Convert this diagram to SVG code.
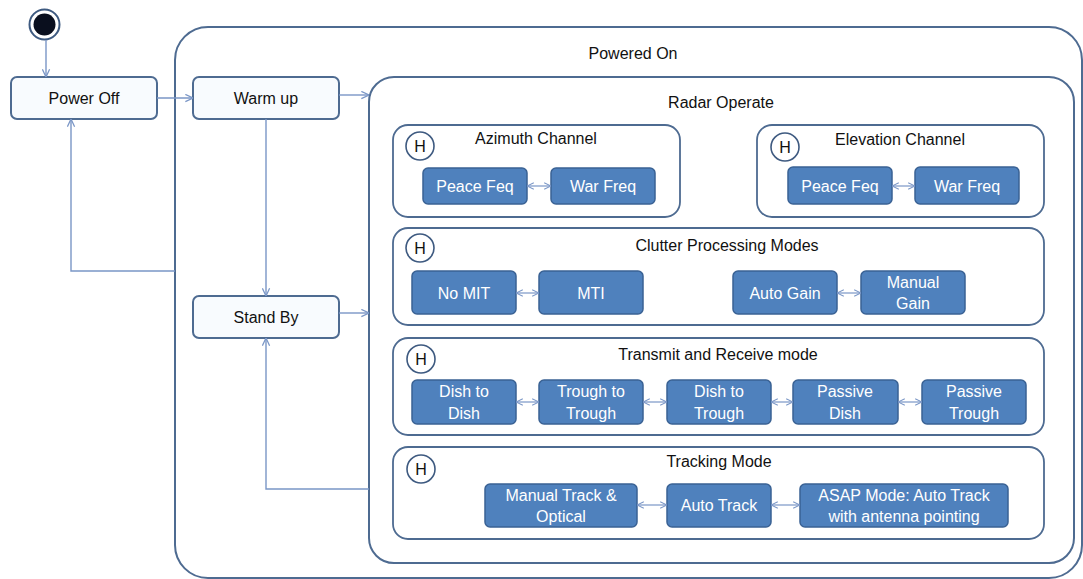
<svg xmlns="http://www.w3.org/2000/svg" width="1083" height="579" viewBox="0 0 1083 579">
<defs>
<style>
text{font-family:"Liberation Sans",Arial,sans-serif;font-size:16px;text-anchor:middle}
.t{fill:#111}
.w{fill:#fff}
.cont{fill:none;stroke:#4e6b91;stroke-width:2}
.sub{fill:#fff;stroke:#4e6b91;stroke-width:1.8}
.state{fill:#f8fbfe;stroke:#4e6b91;stroke-width:2}
.blue{fill:#4f81bd;stroke:#3a6294;stroke-width:1.5}
.hist{fill:#fff;stroke:#3e5a80;stroke-width:1.6}
.c{fill:none;stroke:#7a96c6;stroke-width:1.4}
.d{fill:none;stroke:#7a96c6;stroke-width:1.2}
</style>
<marker id="ah" viewBox="0 0 10 10" refX="9.5" refY="5" markerWidth="9" markerHeight="9" markerUnits="userSpaceOnUse" orient="auto-start-reverse">
<path d="M1,1 L9.5,5 L1,9" fill="none" stroke="#7a96c6" stroke-width="1.4"/>
</marker>
<marker id="sh" viewBox="0 0 10 10" refX="9.5" refY="5" markerWidth="8" markerHeight="8" markerUnits="userSpaceOnUse" orient="auto-start-reverse">
<path d="M1,1 L9.5,5 L1,9" fill="none" stroke="#7a96c6" stroke-width="1.3"/>
</marker>
</defs>
<rect width="1083" height="579" fill="#fff"/>

<g id="powered-on">
<rect class="cont" x="175" y="27" width="907" height="551" rx="33"/>
<text class="t" x="633" y="59">Powered On</text>
</g>

<g id="radar-operate">
<rect class="cont" x="369" y="77" width="705" height="486" rx="25"/>
<text class="t" x="721" y="108">Radar Operate</text>
</g>

<g id="initial">
<circle cx="44.5" cy="24.5" r="15" fill="#fff" stroke="#3e5a80" stroke-width="2"/>
<circle cx="44.5" cy="24.5" r="11" fill="#0a0f1e"/>
</g>

<g id="power-off">
<rect class="state" x="11" y="77" width="146" height="42" rx="6"/>
<text class="t" x="84" y="104">Power Off</text>
</g>
<g id="warm-up">
<rect class="state" x="193" y="77" width="146" height="42" rx="6"/>
<text class="t" x="266" y="104">Warm up</text>
</g>
<g id="stand-by">
<rect class="state" x="193" y="296" width="146" height="42" rx="6"/>
<text class="t" x="266" y="323">Stand By</text>
</g>

<g id="azimuth-channel">
<rect class="sub" x="393" y="125" width="287" height="92" rx="15"/>
<circle class="hist" cx="420" cy="146" r="14"/>
<text class="t" x="420" y="152">H</text>
<text class="t" x="536" y="144">Azimuth Channel</text>
<g id="az-peace"><rect class="blue" x="423" y="168" width="104" height="36" rx="5"/><text class="w" x="475" y="192">Peace Feq</text></g>
<g id="az-war"><rect class="blue" x="551" y="168" width="104" height="36" rx="5"/><text class="w" x="603" y="192">War Freq</text></g>
</g>

<g id="elevation-channel">
<rect class="sub" x="757" y="125" width="287" height="92" rx="15"/>
<circle class="hist" cx="785" cy="147" r="14"/>
<text class="t" x="785" y="153">H</text>
<text class="t" x="900" y="145">Elevation Channel</text>
<g id="el-peace"><rect class="blue" x="788" y="167" width="104" height="37" rx="5"/><text class="w" x="840" y="192">Peace Feq</text></g>
<g id="el-war"><rect class="blue" x="915" y="167" width="104" height="37" rx="5"/><text class="w" x="967" y="192">War Freq</text></g>
</g>

<g id="clutter-processing">
<rect class="sub" x="393" y="228" width="651" height="97" rx="15"/>
<circle class="hist" cx="420" cy="248" r="14"/>
<text class="t" x="420" y="254">H</text>
<text class="t" x="727" y="251">Clutter Processing Modes</text>
<g id="no-mit"><rect class="blue" x="412" y="271" width="104" height="43" rx="5"/><text class="w" x="464" y="299">No MIT</text></g>
<g id="mti"><rect class="blue" x="539" y="271" width="104" height="43" rx="5"/><text class="w" x="591" y="299">MTI</text></g>
<g id="auto-gain"><rect class="blue" x="733" y="271" width="104" height="43" rx="5"/><text class="w" x="785" y="299">Auto Gain</text></g>
<g id="manual-gain"><rect class="blue" x="861" y="271" width="104" height="43" rx="5"/><text class="w" x="913" y="288">Manual</text><text class="w" x="913" y="309">Gain</text></g>
</g>

<g id="transmit-receive">
<rect class="sub" x="393" y="338" width="651" height="97" rx="15"/>
<circle class="hist" cx="421" cy="359" r="14"/>
<text class="t" x="421" y="365">H</text>
<text class="t" x="718" y="360">Transmit and Receive mode</text>
<g id="dish-dish"><rect class="blue" x="412" y="380" width="104" height="44" rx="5"/><text class="w" x="464" y="397">Dish to</text><text class="w" x="464" y="419">Dish</text></g>
<g id="trough-trough"><rect class="blue" x="539" y="380" width="104" height="44" rx="5"/><text class="w" x="591" y="397">Trough to</text><text class="w" x="591" y="419">Trough</text></g>
<g id="dish-trough"><rect class="blue" x="667" y="380" width="104" height="44" rx="5"/><text class="w" x="719" y="397">Dish to</text><text class="w" x="719" y="419">Trough</text></g>
<g id="passive-dish"><rect class="blue" x="793" y="380" width="105" height="44" rx="5"/><text class="w" x="845" y="397">Passive</text><text class="w" x="845" y="419">Dish</text></g>
<g id="passive-trough"><rect class="blue" x="922" y="380" width="104" height="44" rx="5"/><text class="w" x="974" y="397">Passive</text><text class="w" x="974" y="419">Trough</text></g>
</g>

<g id="tracking-mode">
<rect class="sub" x="393" y="447" width="651" height="92" rx="15"/>
<circle class="hist" cx="421" cy="469" r="14"/>
<text class="t" x="421" y="475">H</text>
<text class="t" x="719" y="467">Tracking Mode</text>
<g id="manual-track"><rect class="blue" x="485" y="484" width="152" height="43" rx="5"/><text class="w" x="561" y="501">Manual Track &amp;</text><text class="w" x="561" y="522">Optical</text></g>
<g id="auto-track"><rect class="blue" x="667" y="484" width="104" height="43" rx="5"/><text class="w" x="719" y="511">Auto Track</text></g>
<g id="asap"><rect class="blue" x="800" y="484" width="208" height="43" rx="5"/><text class="w" x="904" y="501">ASAP Mode: Auto Track</text><text class="w" x="904" y="522">with antenna pointing</text></g>
</g>

<g id="connectors">
<line class="c" x1="46" y1="40" x2="46" y2="77" marker-end="url(#ah)"/>
<line class="c" x1="157" y1="98" x2="193" y2="98" marker-end="url(#ah)"/>
<line class="c" x1="339" y1="95" x2="369" y2="95" marker-end="url(#ah)"/>
<line class="c" x1="266" y1="119" x2="266" y2="296" marker-end="url(#ah)"/>
<line class="c" x1="339" y1="313" x2="369" y2="313" marker-end="url(#ah)"/>
<polyline class="c" points="369,489 266,489 266,338" marker-end="url(#ah)"/>
<polyline class="c" points="175,271 71,271 71,119" marker-end="url(#ah)"/>
<line class="d" x1="527" y1="186" x2="551" y2="186" marker-start="url(#sh)" marker-end="url(#sh)"/>
<line class="d" x1="892" y1="186" x2="915" y2="186" marker-start="url(#sh)" marker-end="url(#sh)"/>
<line class="d" x1="516" y1="293" x2="539" y2="293" marker-start="url(#sh)" marker-end="url(#sh)"/>
<line class="d" x1="837" y1="293" x2="861" y2="293" marker-start="url(#sh)" marker-end="url(#sh)"/>
<line class="d" x1="516" y1="402" x2="539" y2="402" marker-start="url(#sh)" marker-end="url(#sh)"/>
<line class="d" x1="643" y1="402" x2="667" y2="402" marker-start="url(#sh)" marker-end="url(#sh)"/>
<line class="d" x1="771" y1="402" x2="793" y2="402" marker-start="url(#sh)" marker-end="url(#sh)"/>
<line class="d" x1="898" y1="402" x2="922" y2="402" marker-start="url(#sh)" marker-end="url(#sh)"/>
<line class="d" x1="637" y1="505" x2="667" y2="505" marker-start="url(#sh)" marker-end="url(#sh)"/>
<line class="d" x1="771" y1="505" x2="800" y2="505" marker-start="url(#sh)" marker-end="url(#sh)"/>
</g>
</svg>
